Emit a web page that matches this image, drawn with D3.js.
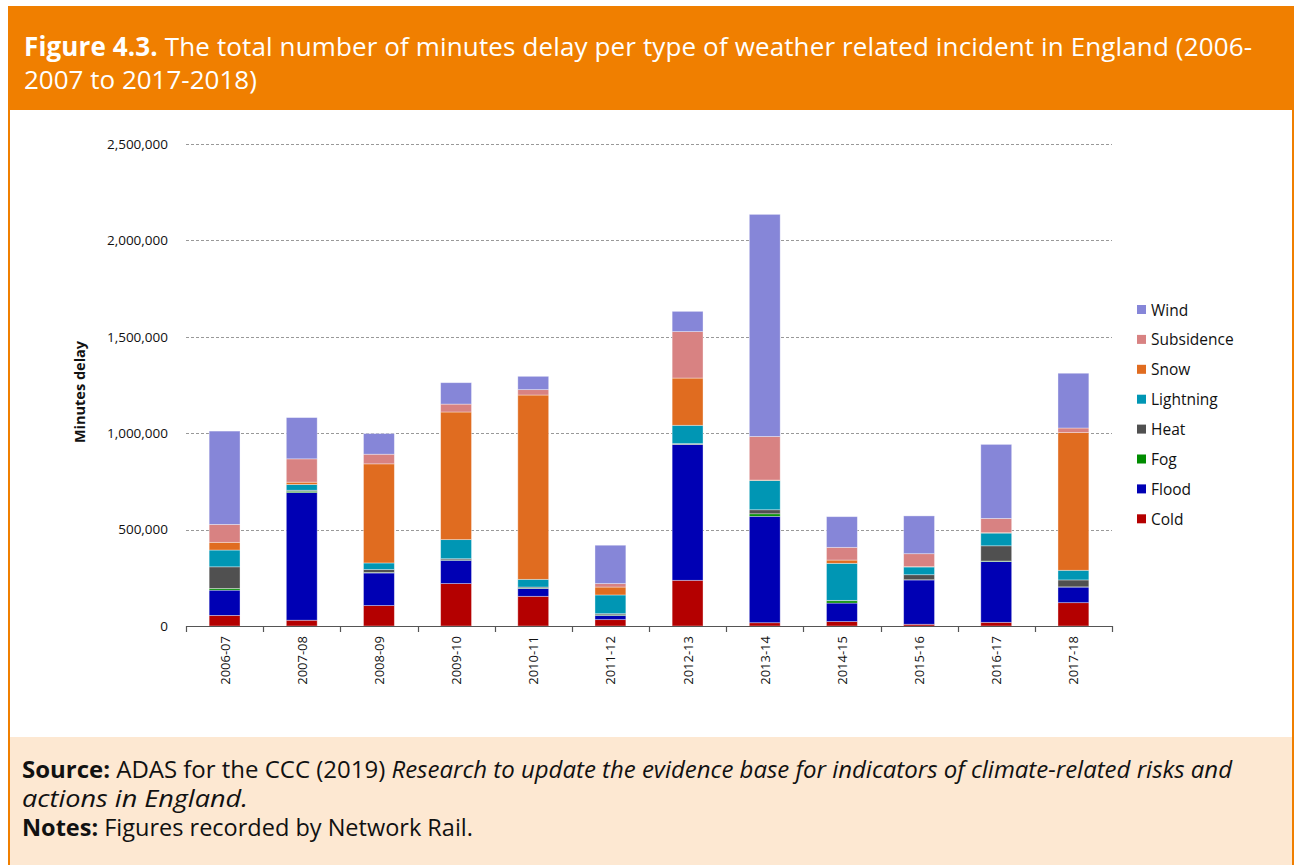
<!DOCTYPE html>
<html>
<head>
<meta charset="utf-8">
<script src="https://cdn.jsdelivr.net/npm/d3@7"></script>
<style>
  html, body { margin: 0; padding: 0; background: #fff; }
  svg { display: block; font-family: "Open Sans", "Noto Sans", sans-serif; }
</style>
</head>
<body>
<svg id="fig" width="1295" height="865"></svg>
<script>
// Railway delay minutes by weather incident type, per financial year
const years = ["2006-07","2007-08","2008-09","2009-10","2010-11","2011-12",
               "2012-13","2013-14","2014-15","2015-16","2016-17","2017-18"];
const cold       = [55000, 30000, 106000, 220000, 154000, 33000, 237000, 17000, 23000, 9000, 19000, 121000];
const flood      = [131000, 662000, 169000, 121000, 41000, 22000, 704000, 552000, 96000, 230000, 315000, 81000];
const fog        = [9000, 7000, 3000, 2000, 2000, 3000, 1000, 13000, 12000, 1000, 3000, 1000];
const heat       = [112000, 5000, 15000, 6000, 5000, 6000, 4000, 21000, 2000, 26000, 79000, 36000];
const lightning  = [87000, 30000, 34000, 99000, 40000, 97000, 95000, 152000, 192000, 40000, 66000, 50000];
const snow       = [40000, 12000, 514000, 662000, 956000, 41000, 245000, 2000, 17000, 2000, 2000, 714000];
const subsidence = [93000, 121000, 50000, 41000, 28000, 18000, 241000, 226000, 66000, 67000, 74000, 24000];
const wind       = [484000, 214000, 107000, 111000, 69000, 199000, 105000, 1152000, 159000, 196000, 384000, 284000];

const seriesNames  = ["Cold","Flood","Fog","Heat","Lightning","Snow","Subsidence","Wind"];
const seriesValues = [cold, flood, fog, heat, lightning, snow, subsidence, wind];
const seriesColors = ["#b40000","#0000b4","#008c00","#505050","#0096b4","#e06c20","#d88282","#8686d8"];
const yTicks = [0, 500000, 1000000, 1500000, 2000000, 2500000];

const svg = d3.select("#fig");

// ---- Header band ----
svg.append("rect").attr("x", 8).attr("y", 6).attr("width", 1286).attr("height", 104).attr("fill", "#f07f00");
const head = svg.append("g").attr("fill", "#fff").style("font-size", "26px");
const h1 = head.append("text").attr("x", 24).attr("y", 56)
  .attr("textLength", 1228).attr("lengthAdjust", "spacing");
h1.append("tspan").attr("font-weight", "bold").text("Figure 4.3.");
h1.append("tspan").text(" The total number of minutes delay per type of weather related incident in England (2006-");
head.append("text").attr("x", 24).attr("y", 89).text("2007 to 2017-2018)");

// ---- Side borders and footer ----
svg.append("rect").attr("x", 10).attr("y", 737).attr("width", 1282).attr("height", 128).attr("fill", "#fde8d2");
svg.append("rect").attr("x", 8).attr("y", 110).attr("width", 2).attr("height", 755).attr("fill", "#f07f00");
svg.append("rect").attr("x", 1292).attr("y", 110).attr("width", 2).attr("height", 755).attr("fill", "#f07f00");

const foot = svg.append("g").attr("fill", "#111").style("font-size", "23.5px");
const f1 = foot.append("text").attr("x", 22).attr("y", 778)
  .attr("textLength", 1210).attr("lengthAdjust", "spacingAndGlyphs");
f1.append("tspan").attr("font-weight", "bold").text("Source:");
f1.append("tspan").text(" ADAS for the CCC (2019) ");
f1.append("tspan").attr("font-style", "italic").text("Research to update the evidence base for indicators of climate-related risks and");
foot.append("text").attr("x", 22).attr("y", 807).attr("font-style", "italic")
  .attr("textLength", 226).attr("lengthAdjust", "spacingAndGlyphs").text("actions in England.");
const f3 = foot.append("text").attr("x", 22).attr("y", 836);
f3.append("tspan").attr("font-weight", "bold").text("Notes:");
f3.append("tspan").text(" Figures recorded by Network Rail.");

// ---- Chart ----
const plot = { left: 186, right: 1112, top: 144, bottom: 626 };
const x = d3.scaleBand().domain(years).range([plot.left, plot.right]).paddingInner(0.6).paddingOuter(0.3);
const xEdge = d3.scaleBand().domain(years).range([plot.left, plot.right]);
const y = d3.scaleLinear().domain([0, 2500000]).range([plot.bottom, plot.top]);

const g = svg.append("g");

// Horizontal dashed gridlines
g.append("g").selectAll("line").data(yTicks.filter(d => d > 0)).join("line")
  .attr("x1", plot.left).attr("x2", plot.right)
  .attr("y1", d => Math.round(y(d)) + 0.5).attr("y2", d => Math.round(y(d)) + 0.5)
  .attr("stroke", "#999").attr("stroke-width", 1).attr("stroke-dasharray", "3,2");

// Y tick labels
const yAxis = d3.axisLeft(y).tickValues(yTicks).tickSize(0).tickPadding(18)
  .tickFormat(d => d3.format(",")(d));
const ya = g.append("g").attr("transform", `translate(${plot.left},0)`).call(yAxis);
ya.select(".domain").remove();
ya.selectAll("text").style("font-size", "13.5px").attr("fill", "#111").style("font-family", "'Open Sans', sans-serif");

// Y axis title
g.append("text").attr("transform", `translate(85,392) rotate(-90)`)
  .attr("text-anchor", "middle").attr("font-weight", "bold").style("font-size", "14.5px")
  .attr("fill", "#111").text("Minutes delay");

// Stacked bars
const table = years.map((yr, i) => {
  const row = { year: yr };
  seriesNames.forEach((n, k) => row[n] = seriesValues[k][i]);
  return row;
});
const stacked = d3.stack().keys(seriesNames)(table);
g.append("g").selectAll("g").data(stacked).join("g")
  .attr("fill", (d, i) => seriesColors[i])
  .selectAll("rect").data(d => d).join("rect")
  .attr("x", d => x(d.data.year))
  .attr("width", x.bandwidth())
  .attr("y", d => y(d[1]))
  .attr("height", d => Math.max(0, y(d[0]) - y(d[1])))
  .attr("stroke", "rgba(255,255,255,0.45)").attr("stroke-width", 0.8);

// X axis line and category boundary ticks
const xAxis = g.append("g");
xAxis.append("line").attr("x1", plot.left).attr("x2", plot.right)
  .attr("y1", plot.bottom + 0.5).attr("y2", plot.bottom + 0.5).attr("stroke", "#555").attr("stroke-width", 1.2);
const edges = years.map(d => xEdge(d)).concat([plot.right]);
xAxis.selectAll("line.tk").data(edges).join("line").attr("class", "tk")
  .attr("x1", d => Math.round(d) + 0.5).attr("x2", d => Math.round(d) + 0.5)
  .attr("y1", plot.bottom).attr("y2", plot.bottom + 6).attr("stroke", "#555").attr("stroke-width", 1.2);

// X labels (rotated)
xAxis.selectAll("text").data(years).join("text")
  .attr("transform", d => `translate(${x(d) + x.bandwidth() / 2 + 5},${plot.bottom + 10}) rotate(-90)`)
  .attr("text-anchor", "end").style("font-size", "13px").attr("fill", "#111").text(d => d);

// Legend (top entry is Wind)
const legendOrder = seriesNames.map((n, i) => ({ n, c: seriesColors[i] })).reverse();
const lg = g.append("g").selectAll("g").data(legendOrder).join("g")
  .attr("transform", (d, i) => `translate(1137,${310 + i * 29.9})`);
lg.append("rect").attr("x", 0).attr("y", -5).attr("width", 9).attr("height", 9).attr("fill", d => d.c);
lg.append("text").attr("x", 14).attr("y", 5.5).style("font-size", "15.5px").attr("fill", "#111").text(d => d.n);
</script>
</body>
</html>
